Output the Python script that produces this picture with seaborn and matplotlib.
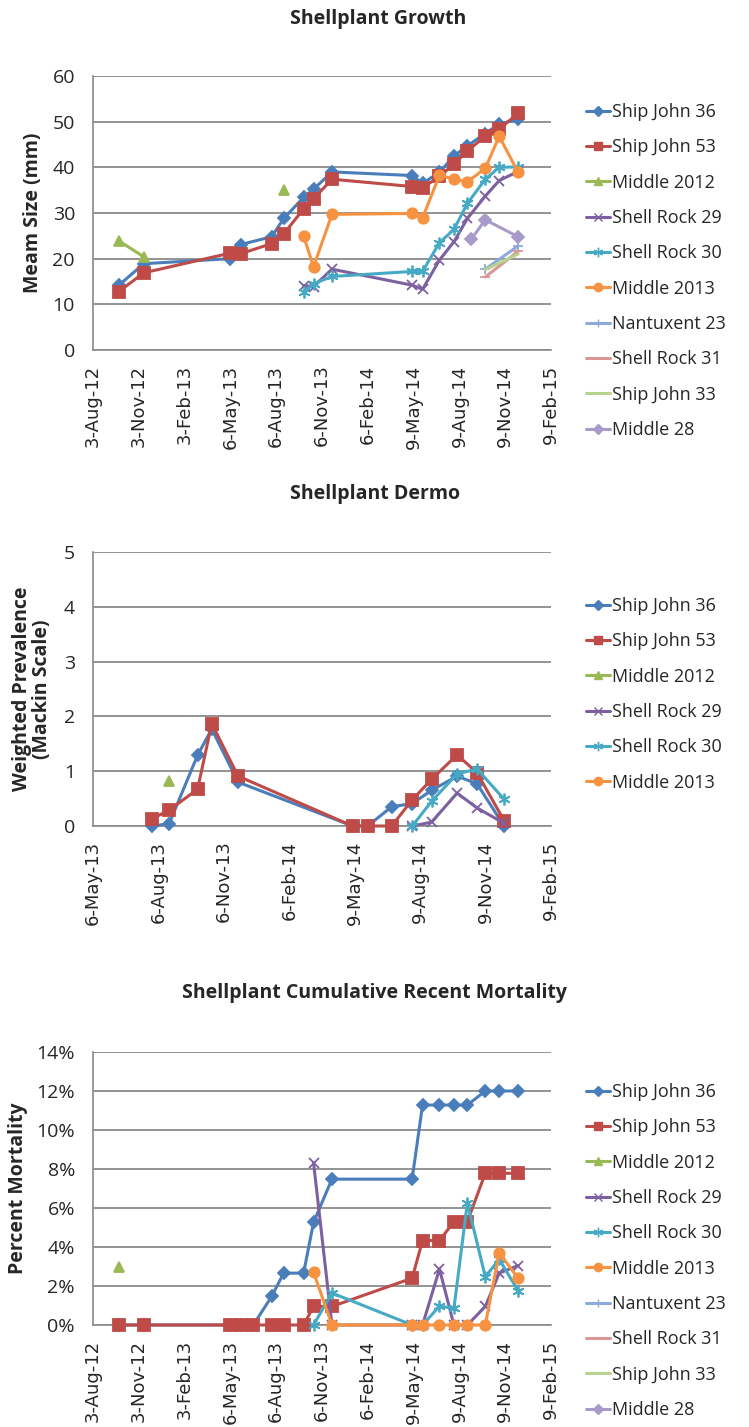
import numpy as np
import pandas as pd
import matplotlib
matplotlib.use("Agg")
import matplotlib.pyplot as plt
from matplotlib.lines import Line2D
from matplotlib.ticker import MultipleLocator, FuncFormatter
import seaborn as sns

nan = np.nan

# Sampling dates shared by every site (nan = site not sampled that day)
sample_dates = pd.to_datetime([
    "2012-09-24", "2012-11-13", "2013-05-05", "2013-05-27", "2013-06-21",
    "2013-07-28", "2013-08-21", "2013-09-30", "2013-10-20", "2013-11-26",
    "2014-05-06", "2014-05-27", "2014-06-30", "2014-07-29", "2014-08-25",
    "2014-09-02", "2014-09-30", "2014-10-28", "2014-12-05",
])

# Axis tick labels
full_ticks = ["3-Aug-12", "3-Nov-12", "3-Feb-13", "6-May-13", "6-Aug-13", "6-Nov-13",
              "6-Feb-14", "9-May-14", "9-Aug-14", "9-Nov-14", "9-Feb-15"]
dermo_ticks = ["6-May-13", "6-Aug-13", "6-Nov-13", "6-Feb-14",
               "9-May-14", "9-Aug-14", "9-Nov-14", "9-Feb-15"]

site_names = ["Ship John 36", "Ship John 53", "Middle 2012", "Shell Rock 29",
              "Shell Rock 30", "Middle 2013", "Nantuxent 23", "Shell Rock 31",
              "Ship John 33", "Middle 28"]
site_colors = ["#4A7EBB", "#BE4B48", "#98B954", "#7D60A0", "#46AAC5",
               "#F69240", "#8EAADB", "#D99694", "#B9D38F", "#A99BC9"]
site_markers = ["D", "s", "^", "x", (6, 2, 0), "o", "+", "_", None, "D"]
marker_sizes = [6.5, 8, 7, 7, 8.5, 7.5, 7, 7, 0, 6.5]

# Mean shell size (mm)
growth_sj36 = [14.2, 18.9, 20.0, 23.1, nan, 24.8, 28.8, 33.4, 35.2, 39.0, 38.2, 36.5, 38.9, 42.5, 44.7, nan, 47.4, 49.5, 50.5]
growth_sj53 = [12.8, 16.9, 21.2, 21.1, nan, 23.3, 25.4, 30.9, 33.1, 37.4, 35.8, 35.5, 38.0, 40.7, 43.6, nan, 46.8, 48.4, 51.8]
growth_m2012 = [23.9, 20.4, nan, nan, nan, nan, 35.0, nan, nan, nan, nan, nan, nan, nan, nan, nan, nan, nan, nan]
growth_sr29 = [nan, nan, nan, nan, nan, nan, nan, 14.1, 13.9, 17.7, 14.2, 13.3, 19.7, 23.7, 28.8, nan, 33.7, 37.1, 39.1]
growth_sr30 = [nan, nan, nan, nan, nan, nan, nan, 12.6, 14.5, 16.1, 17.2, 17.2, 23.5, 26.4, 32.1, nan, 37.4, 40.0, 40.1]
growth_m2013 = [nan, nan, nan, nan, nan, nan, nan, 25.0, 18.2, 29.7, 29.9, 28.9, 38.3, 37.4, 36.8, nan, 39.8, 46.8, 38.9]
growth_n23 = [nan] * 16 + [17.7, nan, 22.8]
growth_sr31 = [nan] * 16 + [16.0, nan, 21.6]
growth_sj33 = [nan] * 16 + [17.6, nan, 21.0]
growth_m28 = [nan] * 15 + [24.3, 28.5, nan, 24.8]
# Middle 2012 was not followed between its 2012 samples and August 2013
growth_m2012_restart = ["2013-08-21"]

# Weighted dermo prevalence (Mackin scale)
dermo_sj36 = [nan, nan, nan, nan, nan, 0.0, 0.04, 1.29, 1.77, 0.80, 0.0, 0.0, 0.35, 0.41, 0.65, nan, 0.91, 0.77, 0.0]
dermo_sj53 = [nan, nan, nan, nan, nan, 0.13, 0.29, 0.67, 1.87, 0.91, 0.0, 0.0, 0.0, 0.48, 0.85, nan, 1.30, 0.97, 0.10]
dermo_m2012 = [nan] * 6 + [0.83] + [nan] * 12
dermo_sr29 = [nan] * 13 + [0.0, 0.07, nan, 0.60, 0.33, 0.05]
dermo_sr30 = [nan] * 13 + [0.0, 0.45, nan, 0.95, 1.04, 0.49]
dermo_m2013 = [nan] * 19

# Cumulative recent mortality (%)
mort_sj36 = [0.0, 0.0, 0.0, 0.0, 0.0, 1.47, 2.66, 2.66, 5.26, 7.48, 7.48, 11.28, 11.28, 11.28, 11.28, nan, 12.0, 12.0, 12.0]
mort_sj53 = [0.0, 0.0, 0.0, 0.0, 0.0, 0.0, 0.0, 0.0, 0.95, 0.95, 2.40, 4.33, 4.33, 5.30, 5.30, nan, 7.78, 7.78, 7.78]
mort_m2012 = [2.95] + [nan] * 18
mort_sr29 = [nan] * 8 + [8.33, 0.0, 0.0, 0.0, 2.87, 0.0, 0.0, nan, 0.95, 2.66, 3.05]
mort_sr30 = [nan] * 8 + [0.0, 1.64, 0.0, 0.0, 0.97, 0.85, 6.27, nan, 2.47, 3.37, 1.75]
mort_m2013 = [nan] * 8 + [2.71, 0.0, 0.0, 0.0, 0.0, 0.0, 0.0, nan, 0.0, 3.71, 2.39]
mort_n23 = [nan] * 19
mort_sr31 = [nan] * 19
mort_sj33 = [nan] * 19
mort_m28 = [nan] * 19

growth_series = [growth_sj36, growth_sj53, growth_m2012, growth_sr29, growth_sr30,
                 growth_m2013, growth_n23, growth_sr31, growth_sj33, growth_m28]
growth_restarts = [[], [], growth_m2012_restart, [], [], [], [], [], [], []]
dermo_series = [dermo_sj36, dermo_sj53, dermo_m2012, dermo_sr29, dermo_sr30, dermo_m2013]
mort_series = [mort_sj36, mort_sj53, mort_m2012, mort_sr29, mort_sr30,
               mort_m2013, mort_n23, mort_sr31, mort_sj33, mort_m28]

sns.set_style("white")
plt.rcParams["font.family"] = ["Open Sans", "DejaVu Sans"]

W, H = 749, 1427
fig = plt.figure(figsize=(W / 100, H / 100), dpi=100)

GRID = "#8A8A8A"


def px_axes(x0, y0, x1, y1):
    return fig.add_axes([x0 / W, 1 - y1 / H, (x1 - x0) / W, (y1 - y0) / H])


def draw_site(ax, values, color, marker, ms, restarts=()):
    s = pd.Series(values, index=sample_dates, dtype=float).dropna()
    if s.empty:
        return
    starts = pd.to_datetime(list(restarts))
    segment = np.cumsum([d in starts for d in s.index])
    for _, run in s.groupby(segment):
        sns.lineplot(x=run.index, y=run.values, ax=ax, color=color,
                     marker=marker, markersize=ms, markeredgecolor=color,
                     markeredgewidth=1.3, linewidth=2.2, errorbar=None,
                     legend=False, sort=False, clip_on=False, zorder=3)


def style_axes(ax, ticks, ymax, ystep):
    tick_dates = pd.to_datetime(ticks, format="%d-%b-%y")
    ax.set_xlim(tick_dates[0], tick_dates[-1])
    ax.set_xticks(tick_dates)
    ax.set_xticklabels(ticks, rotation=90, fontfamily="DejaVu Sans",
                       fontsize=13, va="top", ha="center")
    ax.set_ylim(0, ymax)
    ax.yaxis.set_major_locator(MultipleLocator(ystep))
    ax.grid(axis="y", color=GRID, linewidth=1.3)
    ax.grid(axis="x", visible=False)
    ax.set_axisbelow(True)
    for side in ("top", "right"):
        ax.spines[side].set_visible(False)
    for side in ("left", "bottom"):
        ax.spines[side].set_color(GRID)
        ax.spines[side].set_linewidth(1.2)
        ax.spines[side].set_zorder(1)
    ax.tick_params(axis="y", length=0, pad=13, labelsize=14)
    ax.tick_params(axis="x", length=0, pad=10.5)
    ax.set_xlabel("")
    ax.set_ylabel("")


def add_legend(n, y_top):
    handles = [Line2D([], [], color=site_colors[i], marker=site_markers[i],
                      markersize=marker_sizes[i] * 0.8, markeredgecolor=site_colors[i],
                      linewidth=2.2) for i in range(n)]
    fig.legend(handles, site_names[:n], loc="upper left",
               bbox_to_anchor=(586 / W, 1 - y_top / H), frameon=False,
               fontsize=13, handlelength=1.35, handletextpad=0.1,
               labelspacing=0.96, borderpad=0, borderaxespad=0)


# Growth panel
ax1 = px_axes(93, 76, 551, 350)
for vals, c, m, ms, rs in zip(growth_series, site_colors, site_markers, marker_sizes, growth_restarts):
    draw_site(ax1, vals, c, m, ms, rs)
style_axes(ax1, full_ticks, 60, 10)
fig.text(378 / W, 1 - 19 / H, "Shellplant Growth", ha="center", va="center",
         fontsize=14, fontweight="bold")
fig.text(33 / W, 1 - 213 / H, "Meam Size (mm)", ha="center", va="center",
         rotation=90, fontsize=14, fontweight="bold")
add_legend(10, 103)

# Dermo panel
ax2 = px_axes(93, 552, 551, 826)
for vals, c, m, ms in zip(dermo_series, site_colors, site_markers, marker_sizes):
    draw_site(ax2, vals, c, m, ms)
style_axes(ax2, dermo_ticks, 5, 1)
ax2.yaxis.set_minor_locator(MultipleLocator(0.5))
ax2.tick_params(axis="y", which="minor", length=5, color=GRID, width=1.2, direction="out")
ax2.tick_params(axis="y", which="major", length=5, color=GRID, width=1.2, direction="out", pad=8)
fig.text(375 / W, 1 - 494 / H, "Shellplant Dermo", ha="center", va="center",
         fontsize=14, fontweight="bold")
fig.text(32 / W, 1 - 689 / H, "Weighted Prevalence\n(Mackin Scale)", ha="center",
         va="center", rotation=90, fontsize=14, fontweight="bold", linespacing=1.0)
add_legend(6, 597)

# Mortality panel
ax3 = px_axes(93, 1052, 551, 1325)
for vals, c, m, ms in zip(mort_series, site_colors, site_markers, marker_sizes):
    draw_site(ax3, vals, c, m, ms)
style_axes(ax3, full_ticks, 14, 2)
ax3.yaxis.set_major_formatter(FuncFormatter(lambda v, _: f"{v:.0f}%"))
fig.text(375 / W, 1 - 993 / H, "Shellplant Cumulative Recent Mortality", ha="center",
         va="center", fontsize=14, fontweight="bold")
fig.text(18 / W, 1 - 1188 / H, "Percent Mortality", ha="center", va="center",
         rotation=90, fontsize=14, fontweight="bold")
add_legend(10, 1083)

fig.savefig("out.png", dpi=100, facecolor="white")
